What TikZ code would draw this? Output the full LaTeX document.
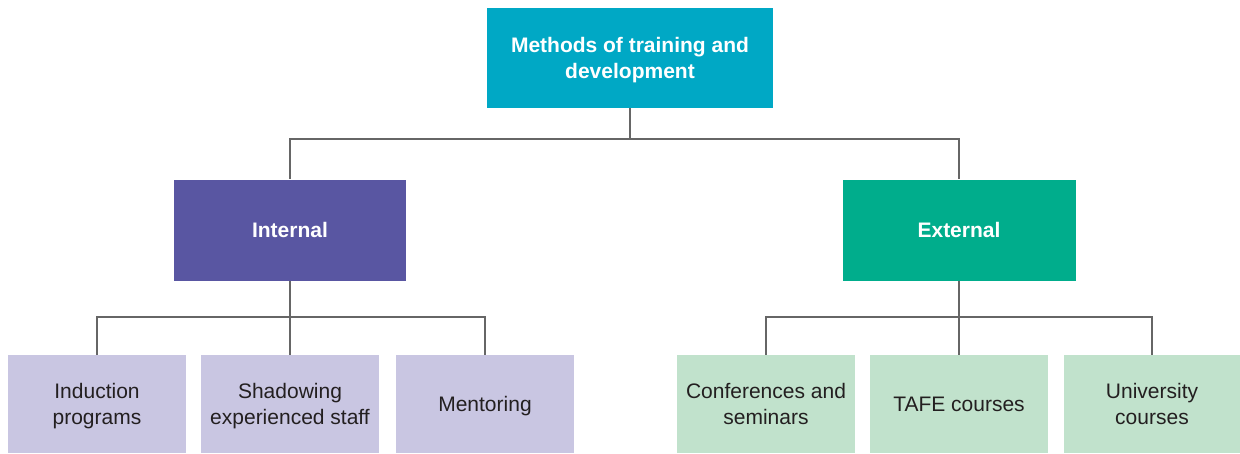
\documentclass[tikz,border=0pt]{standalone}
\usepackage{fontspec}
\setmainfont{Liberation Sans}
\usepackage{tikz}
\usetikzlibrary{calc}
\definecolor{topcol}{HTML}{00A8C5}
\definecolor{intcol}{HTML}{5956A2}
\definecolor{extcol}{HTML}{00AD8C}
\definecolor{intlight}{HTML}{C9C6E2}
\definecolor{extlight}{HTML}{C1E2CC}
\definecolor{textcol}{HTML}{231F20}
\definecolor{linecol}{HTML}{666666}

\begin{document}
\begin{tikzpicture}[x=1pt,y=-1pt,
    box/.style={inner sep=0pt, align=center, font=\fontsize{21}{26}\selectfont},
    head/.style={box, text=white, font=\fontsize{21}{26}\selectfont\bfseries},
    leaf/.style={box, text=textcol, minimum width=178pt, minimum height=98pt, text depth=-8pt},
    link/.style={draw=linecol, line width=1.6pt}]
  \useasboundingbox (0,0) rectangle (1240,453);
  % top level
  \node[head, fill=topcol, minimum width=286pt, minimum height=100pt, text depth=0pt] (top) at (630,58)
    {Methods of training and\\development};
  \node[head, fill=intcol, minimum width=232pt, minimum height=101pt] (int) at (290,230) {Internal};
  \node[head, fill=extcol, minimum width=233pt, minimum height=101pt] (ext) at (959,230) {External};
  % leaves
  \node[leaf, fill=intlight] (ind) at (97,404) {Induction\\programs};
  \node[leaf, fill=intlight] (sha) at (290,404) {Shadowing\\experienced staff};
  \node[leaf, fill=intlight] (men) at (485,404) {Mentoring};
  \node[leaf, fill=extlight] (con) at (766,404) {Conferences and\\seminars};
  \node[leaf, fill=extlight] (taf) at (959,404) {TAFE courses};
  \node[leaf, fill=extlight, minimum width=176pt] (uni) at (1152,404) {University\\courses};
  % connectors
  \path[link]
  (top.south) -- ++(0,31) -| (int.north)
  (top.south) -- ++(0,31) -| (ext.north)
  (int.south) -- ++(0,36) -| (ind.north)
  (int.south) -- (sha.north)
  (int.south) -- ++(0,36) -| (men.north)
  (ext.south) -- ++(0,36) -| (con.north)
  (ext.south) -- (taf.north)
  (ext.south) -- ++(0,36) -| (uni.north);
\end{tikzpicture}
\end{document}
